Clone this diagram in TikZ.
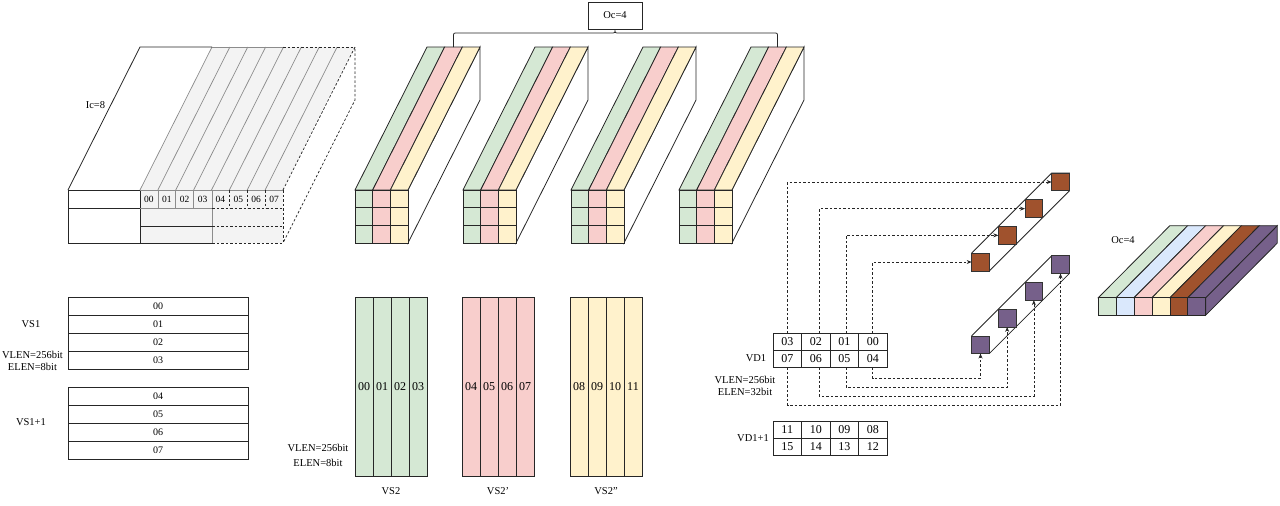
\documentclass[tikz,border=0pt]{standalone}
\usepackage{fontspec}
\setmainfont{Liberation Serif}
\usetikzlibrary{arrows.meta,calc}
\definecolor{cgreen}{HTML}{D5E8D4}
\definecolor{cpink}{HTML}{F8CECC}
\definecolor{cyellow}{HTML}{FFF2CC}
\definecolor{cblue}{HTML}{DAE8FC}
\definecolor{cbrown}{HTML}{A0522D}
\definecolor{cpurple}{HTML}{76608A}
\definecolor{lgrayfill}{HTML}{F3F3F3}
\definecolor{lgrayline}{HTML}{8C8C8C}
\begin{document}
\begin{tikzpicture}[x=1pt,y=-1pt,
  dk/.style={draw=black!85,line width=0.8pt},
  lg/.style={draw=lgrayline,line width=0.7pt},
  dsh/.style={draw=black!85,line width=0.7pt,dash pattern=on 2.5pt off 2pt},
  lbl/.style={font=\fontsize{10.5}{12}\selectfont,inner sep=0pt},
  smalldig/.style={font=\fontsize{9.5}{11}\selectfont,inner sep=0pt},
  vcell/.style={draw=black!85,line width=0.8pt,minimum width=180pt,minimum height=18pt,inner sep=0pt,outer sep=0pt,font=\fontsize{10}{12}\selectfont},
  scol/.style={draw=black!85,line width=0.8pt,fill=#1,minimum width=18pt,minimum height=179pt,inner sep=0pt,outer sep=0pt,font=\fontsize{12}{14}\selectfont},
  dcell/.style={draw=black!85,line width=0.8pt,minimum width=28.5pt,minimum height=17pt,inner sep=0pt,outer sep=0pt,font=\fontsize{12}{14}\selectfont},
  osq/.style={draw=black!80,line width=0.7pt,fill=cbrown,minimum size=17.7pt,inner sep=0pt,outer sep=0pt},
  psq/.style={draw=black!80,line width=0.7pt,fill=cpurple,minimum size=17.7pt,inner sep=0pt,outer sep=0pt},
  darr/.style={draw=black!85,line width=0.7pt,dash pattern=on 2.5pt off 2pt,-{Stealth[length=5pt,width=4pt]}}
]
\useasboundingbox (0,0) rectangle (1280,506);

% ---------------- left input block ----------------
\fill[lgrayfill] (140,190) -- (283,190) -- (355,47) -- (212,47) -- cycle;
\fill[lgrayfill] (140,190) rectangle (283,243);
\foreach \k in {0,...,7} \draw[lg] ({140+17.875*\k},190) -- ({212+17.875*\k},47);
\draw[dsh] (283,190) -- (355,47) -- (355,100) -- (283,243);
\draw[dk] (68,190) -- (140,47) -- (212,47);
\draw[lg] (212,47) -- (283,47);
\draw[dsh] (283,47) -- (355,47);
\draw[dk] (68,190) rectangle (140,243);
\draw[dk] (68,208) -- (140,208);
\draw[lg] (140,190) -- (212,190) -- (212,243);
\draw[lg] (140,208) -- (212,208);
\foreach \k in {1,2,3} \draw[lg] ({140+17.875*\k},190) -- ({140+17.875*\k},208);
\draw[dk] (140,226) -- (212,226);
\draw[dk] (140,243) -- (212,243);
\draw[lg] (212,190) -- (283,190);
\draw[dsh] (212,208) -- (283,208) (212,226) -- (283,226) (212,243) -- (283,243) (283,190) -- (283,243);
\foreach \k in {5,6,7} \draw[dsh] ({140+17.875*\k},190) -- ({140+17.875*\k},208);
\foreach \t [count=\k from 0] in {00,01,02,03,04,05,06,07}
  \node[smalldig] (ic\t) at ({148.9+17.875*\k},199.5) {\t};
\node[lbl] (iclabel) at (95.5,105) {Ic=8};

% ---------------- kernel blocks ----------------
\foreach \i in {0,...,3} {
  \pgfmathsetmacro\xo{355+108*\i}
  \filldraw[fill=white,dk] (\xo+53,190) -- (\xo+125,47) -- (\xo+125,100) -- (\xo+53,243) -- cycle;
  \foreach \c [count=\j from 0] in {cgreen,cpink,cyellow} {
    \filldraw[fill=\c,dk] ({\xo+17.667*\j},190) -- ({\xo+17.667*(\j+1)},190) -- ({\xo+72+17.667*(\j+1)},47) -- ({\xo+72+17.667*\j},47) -- cycle;
    \foreach \r in {0,1,2}
      \filldraw[fill=\c,dk] ({\xo+17.667*\j},{190+17.667*\r}) rectangle ++(17.667,17.667);
  }
}
\node[draw=black!85,line width=0.8pt,minimum width=54pt,minimum height=27pt,inner sep=0pt,font=\fontsize{10.5}{12}\selectfont] (oc) at (615,15.5) {Oc=4};
\draw[dk] (453.5,47) -- (453.5,37) .. controls (453.5,33) .. (457.5,33) -- (611,33)
  .. controls (615,33) .. (oc.south) .. controls (615,33) .. (619,33) -- (773.5,33)
  .. controls (777.5,33) .. (777.5,37) -- (777.5,47);

% ---------------- VS1 tables ----------------
\foreach \t [count=\k from 0] in {00,01,02,03}
  \node[vcell] (vs\t) at (158,{306+18*\k}) {\t};
\foreach \t [count=\k from 0] in {04,05,06,07}
  \node[vcell] (vs\t) at (158,{396+18*\k}) {\t};
\node[lbl] (vs1lab) at (31,324) {VS1};
\node[lbl] (vs1vlen) at (32.5,355) {VLEN=256bit};
\node[lbl] (vs1elen) at (32.5,366.5) {ELEN=8bit};
\node[lbl] (vs1plab) at (31,422) {VS1+1};

% ---------------- VS2 registers ----------------
\foreach \t [count=\k from 0] in {00,01,02,03}
  \node[scol=cgreen] (va\t) at ({364+18*\k},386.5) {\t};
\foreach \t [count=\k from 0] in {04,05,06,07}
  \node[scol=cpink] (vb\t) at ({471+18*\k},386.5) {\t};
\foreach \t [count=\k from 0] in {08,09,10,11}
  \node[scol=cyellow] (vc\t) at ({579+18*\k},386.5) {\t};
\node[lbl] (vs2lab) at (391,491) {VS2};
\node[lbl] (vs2plab) at (498,491) {VS2'};
\node[lbl] (vs2pplab) at (606,491) {VS2''};
\node[lbl] (vs2vlen) at (318,448) {VLEN=256bit};
\node[lbl] (vs2elen) at (318,463) {ELEN=8bit};

% ---------------- VD1 tables ----------------
\foreach \t [count=\k from 0] in {03,02,01,00}
  \node[dcell] (vd\t) at ({787.25+28.5*\k},341.5) {\t};
\foreach \t [count=\k from 0] in {07,06,05,04}
  \node[dcell] (vd\t) at ({787.25+28.5*\k},358.5) {\t};
\foreach \t [count=\k from 0] in {11,10,09,08}
  \node[dcell] (vd\t) at ({787.25+28.5*\k},430) {\t};
\foreach \t [count=\k from 0] in {15,14,13,12}
  \node[dcell] (vd\t) at ({787.25+28.5*\k},447) {\t};
\node[lbl] (vd1lab) at (756,358) {VD1};
\node[lbl] (vd1vlen) at (745,380) {VLEN=256bit};
\node[lbl] (vd1elen) at (745,392) {ELEN=32bit};
\node[lbl] (vd1plab) at (753,438) {VD1+1};

% ---------------- output strips ----------------
\foreach \k in {1,2,3,4} {
  \coordinate (oc\k) at ({980.5+26.67*(\k-1)},{262-26.67*(\k-1)});
  \coordinate (pc\k) at ({980.5+26.67*(\k-1)},{344.7-26.67*(\k-1)});
}
\filldraw[fill=white,dk] ($(oc1)+(-8.85,8.85)$) -- ($(oc1)+(-8.85,-8.85)$) -- ($(oc4)+(-8.85,-8.85)$) -- ($(oc4)+(8.85,-8.85)$) -- ($(oc4)+(8.85,8.85)$) -- ($(oc1)+(8.85,8.85)$) -- cycle;
\filldraw[fill=white,dk] ($(pc1)+(-8.85,8.85)$) -- ($(pc1)+(-8.85,-8.85)$) -- ($(pc4)+(-8.85,-8.85)$) -- ($(pc4)+(8.85,-8.85)$) -- ($(pc4)+(8.85,8.85)$) -- ($(pc1)+(8.85,8.85)$) -- cycle;
\foreach \k in {1,2,3,4} {
  \node[osq] (o\k) at (oc\k) {};
  \node[psq] (p\k) at (pc\k) {};
}

% ---------------- dashed connectors ----------------
\draw[darr] ([xshift=0.4pt]vd03.north) |- (o4.west);
\draw[darr] ([xshift=3.5pt]vd02.north) |- (o3.west);
\draw[darr] ([xshift=1.8pt]vd01.north) |- (o2.west);
\draw[darr] (vd00.north) |- (o1.west);
\coordinate (r1) at (0,378.3);
\coordinate (r2) at (0,387.3);
\coordinate (r3) at (0,396);
\coordinate (r4) at (0,405);
\draw[darr] (vd04.south) -- (vd04.south |- r1) -| (p1.south);
\draw[darr] ([xshift=1.8pt]vd05.south) -- ([xshift=1.8pt]vd05.south |- r2) -| (p2.south);
\draw[darr] ([xshift=3.5pt]vd06.south) -- ([xshift=3.5pt]vd06.south |- r3) -| (p3.south);
\draw[darr] ([xshift=0.4pt]vd07.south) -- ([xshift=0.4pt]vd07.south |- r4) -| (p4.south);

% ---------------- result block ----------------
\filldraw[fill=cpurple,dk] (1205.7,297.7) -- (1277.2,225.7) -- (1277.2,243.2) -- (1205.7,315.2) -- cycle;
\foreach \c [count=\j from 0] in {cgreen,cblue,cpink,cyellow,cbrown,cpurple} {
  \filldraw[fill=\c,dk] ({1098.3+17.9*\j},297.7) -- ({1098.3+17.9*(\j+1)},297.7) -- ({1169.8+17.9*(\j+1)},225.7) -- ({1169.8+17.9*\j},225.7) -- cycle;
  \filldraw[fill=\c,dk] ({1098.3+17.9*\j},297.7) rectangle ++(17.9,17.5);
}
\node[lbl] (oclabel) at (1123,240) {Oc=4};
\end{tikzpicture}
\end{document}
